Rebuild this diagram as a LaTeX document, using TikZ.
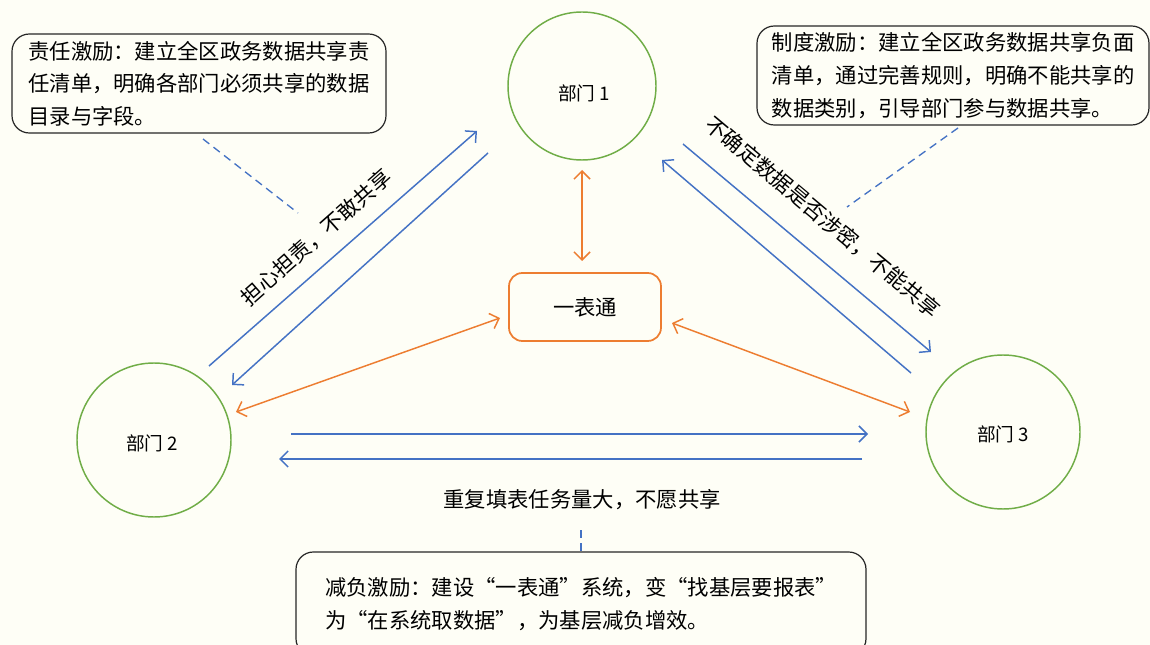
\documentclass[tikz,border=0pt]{standalone}
\usepackage{fontspec}
\setmainfont{Noto Sans CJK SC}
\usetikzlibrary{arrows.meta}
\definecolor{bg}{HTML}{FEFEF6}
\definecolor{myblue}{HTML}{4472C4}
\definecolor{myorange}{HTML}{ED7D31}
\definecolor{mygreen}{HTML}{70AD47}
\definecolor{boxline}{HTML}{262626}
\begin{document}
\begin{tikzpicture}[x=0.75pt,y=-0.75pt,
  dept/.style={circle,draw=mygreen,line width=1.1pt},
  deptlabel/.style={font=\fontsize{14}{16}\selectfont,inner sep=0pt},
  hub/.style={draw=myorange,line width=1.3pt,rounded corners=10pt,minimum width=114pt,minimum height=51pt,font=\fontsize{16}{20}\selectfont},
  note/.style={draw=boxline,line width=0.9pt,rounded corners=13pt,align=left,inner sep=0pt,font=\fontsize{16}{24.5}\selectfont},
  flow/.style={myblue,line width=1.1pt,-{Straight Barb[length=6pt,width=12pt]}},
  link/.style={myorange,line width=1.1pt,{Straight Barb[length=6pt,width=12pt]}-{Straight Barb[length=6pt,width=12pt]}},
  leader/.style={myblue,line width=1pt,dash pattern=on 6pt off 4pt},
  lbl/.style={font=\fontsize{16}{20}\selectfont,inner sep=0pt}
]
\fill[bg] (0,0) rectangle (1150,645);
\useasboundingbox (0,0) rectangle (1150,645);
\clip (0,0) rectangle (1150,645);

% departments
\node[dept,minimum size=111pt] (d1) at (582,86) {};
\node[dept,minimum size=115.5pt] (d2) at (154,440) {};
\node[dept,minimum size=115.5pt] (d3) at (1003,432) {};
\node[deptlabel] (t1) at (584,93) {部门 1};
\node[deptlabel] (t2) at (152,443) {部门 2};
\node[deptlabel] (t3) at (1003,434) {部门 3};
\node[hub] (ybt) at (585,307) {一表通};

% notes
\node[note,minimum width=280.5pt,minimum height=74.25pt] (n1) at (199,83.5)
  {责任激励：建立全区政务数据共享责\\任清单，明确各部门必须共享的数据\\目录与字段。};
\node[note,minimum width=294pt,minimum height=74.25pt] (n2) at (953,75.5)
  {制度激励：建立全区政务数据共享负面\\清单，通过完善规则，明确不能共享的\\数据类别，引导部门参与数据共享。};
\node[note,minimum width=427.5pt,minimum height=78pt] (n3) at (581,604)
  {减负激励：建设“一表通”系统，变“找基层要报表”\\为“在系统取数据”，为基层减负增效。};

% labels
\node[lbl,rotate=41.5] (l12) at (316.5,237.5) {担心担责，不敢共享};
\node[lbl,rotate=-40] (l13) at (823,217) {不确定数据是否涉密，不能共享};
\node[lbl] (l23) at (582,500) {重复填表任务量大，不愿共享};

% blue flows
\coordinate (a21s) at (209,366); \coordinate (a21e) at (477,131);
\coordinate (a12s) at (488,153); \coordinate (a12e) at (232,385);
\coordinate (a13s) at (683,144); \coordinate (a13e) at (931,352);
\coordinate (a31s) at (911,373); \coordinate (a31e) at (662,160);
\coordinate (a23s) at (291,434); \coordinate (a23e) at (868,434);
\coordinate (a32s) at (862,459); \coordinate (a32e) at (279,459);
\draw[flow] (a21s) -- (a21e);
\draw[flow] (a12s) -- (a12e);
\draw[flow] (a13s) -- (a13e);
\draw[flow] (a31s) -- (a31e);
\draw[flow] (a23s) -- (a23e);
\draw[flow] (a32s) -- (a32e);

% orange links
\coordinate (o1a) at (582,170); \coordinate (o1b) at (582,261);
\coordinate (o2a) at (236,412); \coordinate (o2b) at (500,318);
\coordinate (o3a) at (910,412); \coordinate (o3b) at (672,323);
\draw[link] (o1a) -- (o1b);
\draw[link] (o2a) -- (o2b);
\draw[link] (o3a) -- (o3b);

% leaders
\coordinate (p1a) at (203,139); \coordinate (p1b) at (298,213);
\coordinate (p2a) at (958,128); \coordinate (p2b) at (847,207);
\coordinate (p3a) at (581,530);
\draw[leader] (p1a) -- (p1b);
\draw[leader] (p2a) -- (p2b);
\draw[leader] (p3a) -- (n3.north);
\end{tikzpicture}
\end{document}
